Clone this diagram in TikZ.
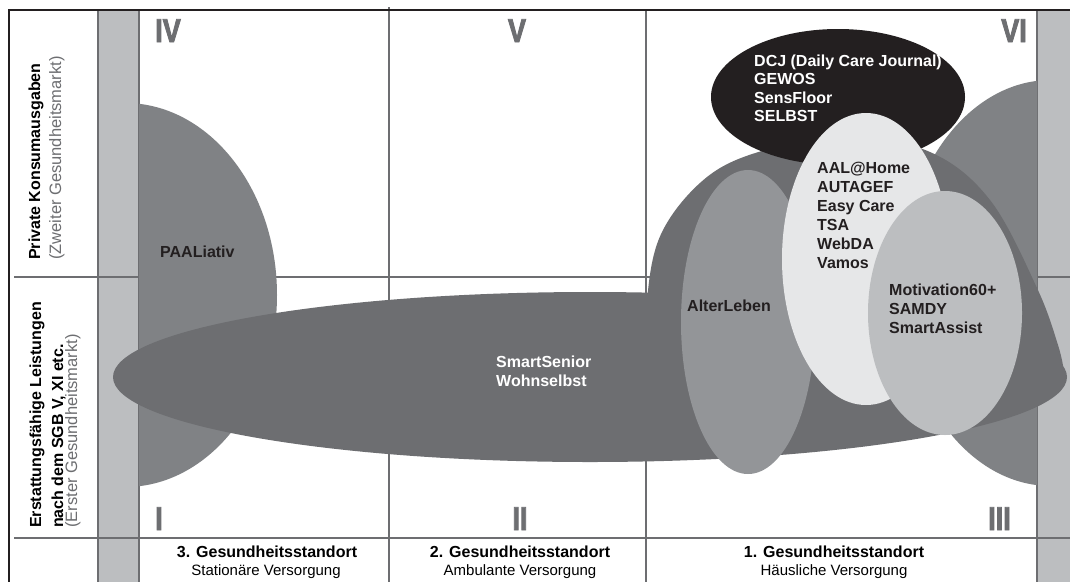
\documentclass[tikz,border=0pt]{standalone}
\usepackage{fontspec}
\usepackage{graphicx}
\setmainfont{Liberation Sans}
\newfontfamily\romfont[FakeBold=2.5,FakeStretch=0.82]{Liberation Sans Bold}
\definecolor{gline}{HTML}{6D6E71}
\definecolor{stripc}{HTML}{BCBEC0}
\definecolor{midg}{HTML}{808285}
\definecolor{darkg}{HTML}{6D6E71}
\definecolor{blk}{HTML}{231F20}
\definecolor{lightg}{HTML}{E6E7E8}
\definecolor{altg}{HTML}{939598}
\definecolor{motg}{HTML}{BCBEC0}
\definecolor{numg}{HTML}{6D6E71}
\begin{document}
\begin{tikzpicture}[x=1pt,y=-1pt,
  gridl/.style={draw=gline,line width=1.4pt},
  framel/.style={draw=blk,line width=2pt},
  tb/.style={font=\fontsize{16}{19}\selectfont\bfseries,inner sep=0pt,align=left,anchor=base west},
  bt/.style={font=\fontsize{16}{19}\selectfont\bfseries,inner sep=0pt,anchor=base},
  rt/.style={font=\fontsize{15}{18}\selectfont,inner sep=0pt,anchor=base},
  gt/.style={font=\fontsize{16.5}{19}\selectfont,text=gline,inner sep=0pt,anchor=base west},
  rom/.style={font=\fontsize{33}{36}\romfont,text=numg,inner sep=0pt}
]
\useasboundingbox (0,0) rectangle (1070,582);
\fill[white] (0,0) rectangle (1070,582);
% strips
\fill[stripc] (98,10) rectangle (139,582);
\fill[stripc] (1037,10) rectangle (1070,582);
% grid
\draw[gridl] (98,10) -- (98,582);
\draw[gridl] (139,10) -- (139,582);
\draw[gridl] (389,7) -- (389,582);
\draw[gridl] (646,10) -- (646,582);
\draw[gridl] (1037,10) -- (1037,582);
\draw[gridl] (14,277) -- (1070,277);
\draw[gridl] (14,538) -- (1070,538);
% medium grey half shapes
\begin{scope}
  \clip (139,0) rectangle (1037,582);
  \fill[midg] (125,295) ellipse [x radius=152pt, y radius=192pt];
  \fill[midg] (1051,283) ellipse [x radius=150pt, y radius=203pt];
\end{scope}
% dark blob
\fill[darkg] (590,377) ellipse [x radius=477pt, y radius=85pt];
\fill[darkg] plot[smooth, tension=0.6] coordinates {(647,380) (647,300) (662,232) (707,177) (765,150) (845,136) (930,152) (990,200) (1037,288) (1058,345) (1064,372)} -- (900,420) -- (700,430) -- cycle;
% black
\fill[blk] (838,97) ellipse [x radius=127pt, y radius=68pt];
% AlterLeben
\fill[altg] (748,322) ellipse [x radius=67pt, y radius=152pt];
% light
\fill[lightg] (866,259) ellipse [x radius=84pt, y radius=146pt];
% Motivation
\fill[motg] (945,313) ellipse [x radius=77pt, y radius=122pt];
% frame
\draw[framel] (1070,10) -- (9,10) -- (9,582);
% numerals
\node[rom,anchor=base west] (n4) at (155,42) {IV};
\node[rom,anchor=base] (n5) at (517,42) {V};
\node[rom,anchor=base east] (n6) at (1027,42) {VI};
\node[rom,anchor=base west] (n1) at (155,530) {I};
\node[rom,anchor=base] (n2) at (520,530) {II};
\node[rom,anchor=base east] (n3) at (1011,530) {III};
% row labels
\node[tb,rotate=90] (pk) at (40,260) {Private Konsumausgaben};
\node[gt,rotate=90] (zg) at (61,260) {(Zweiter Gesundheitsmarkt)};
\node[tb,rotate=90] (el) at (41,528) {Erstattungsfähige Leistungen};
\node[tb,rotate=90] (sgb) at (63,528) {nach dem SGB V, XI etc.};
\node[gt,rotate=90] (eg) at (77,528) {(Erster Gesundheitsmarkt)};
% column labels
\node[bt] (c3a) at (267,557) {3. Gesundheitsstandort};
\node[rt] (c3b) at (266,575) {Stationäre Versorgung};
\node[bt] (c2a) at (520,557) {2. Gesundheitsstandort};
\node[rt] (c2b) at (520,575) {Ambulante Versorgung};
\node[bt] (c1a) at (834,557) {1. Gesundheitsstandort};
\node[rt] (c1b) at (834,575) {Häusliche Versorgung};
% shape labels (base = last line)
\node[tb,text=blk] (paal) at (160,257) {PAALiativ};
\node[tb,text=white] (smart) at (496,386) {SmartSenior\\Wohnselbst};
\node[tb,text=blk] (alter) at (687,311) {AlterLeben};
\node[tb,text=white,font=\fontsize{16}{18.5}\selectfont\bfseries] (dcj) at (754,121.5) {DCJ (Daily Care Journal)\\GEWOS\\SensFloor\\SELBST};
\node[tb,text=blk] (aal) at (817,268) {AAL@Home\\AUTAGEF\\Easy Care\\TSA\\WebDA\\Vamos};
\node[tb,text=blk] (mot) at (889,333) {Motivation60+\\SAMDY\\SmartAssist};
\end{tikzpicture}
\end{document}
